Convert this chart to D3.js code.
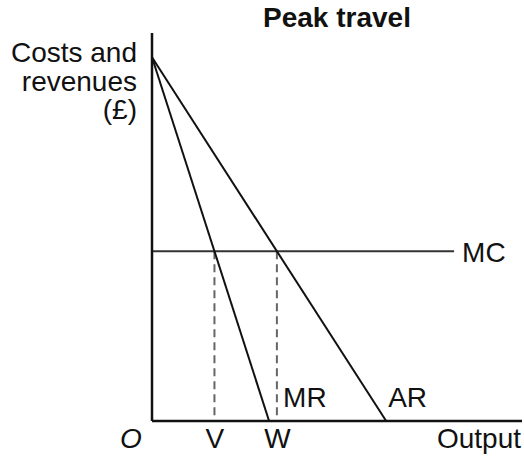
<!DOCTYPE html>
<html>
<head>
<meta charset="utf-8">
<script src="https://cdn.jsdelivr.net/npm/d3@7"></script>
<style>
  html, body { margin: 0; padding: 0; background: #fff; }
  text { font-family: "Liberation Sans", Arial, sans-serif; fill: #111; }
</style>
</head>
<body>
<svg id="chart" width="524" height="462"></svg>
<script>
// ---- data ----
const title = "Peak travel";
const yLabelLines = ["Costs and", "revenues", "(£)"];
const xLabel = "Output";
const originLabel = "O";
const xDomain = [0, 15.8];
const yDomain = [0, 16];
const arLine = [[0, 15], [10, 0]];        // AR: demand
const mrLine = [[0, 15], [5, 0]];         // MR
const mcLine = [[0, 7], [12.9, 7]];       // MC
const qTicks = [8 / 3, 16 / 3];           // V, W
const qTickLabels = ["V", "W"];
const mcValue = 7;

// ---- layout ----
const FS = 28;
const svg = d3.select("#chart");
const x = d3.scaleLinear().domain(xDomain).range([152, 522]);
const y = d3.scaleLinear().domain(yDomain).range([421, 33]);
const line = d3.line().x(d => x(d[0])).y(d => y(d[1]));

// dashed drop lines
svg.selectAll(".drop").data(qTicks).enter().append("line")
  .attr("x1", d => x(d)).attr("x2", d => x(d))
  .attr("y1", y(mcValue)).attr("y2", y(0))
  .attr("stroke", "#666").attr("stroke-width", 2)
  .attr("stroke-dasharray", "8,5");

// MC
svg.append("path").attr("d", line(mcLine))
  .attr("fill", "none").attr("stroke", "#333").attr("stroke-width", 2);

// MR and AR
[mrLine, arLine].forEach(l => {
  svg.append("path").attr("d", line(l))
    .attr("fill", "none").attr("stroke", "#111").attr("stroke-width", 2);
});

// axes
const xAxis = d3.axisBottom(x).tickValues(qTicks)
  .tickFormat((d, i) => qTickLabels[i]).tickSize(0).tickPadding(14);
const gx = svg.append("g").attr("transform", `translate(0,${y(0)})`).call(xAxis);
gx.select(".domain").attr("stroke", "#111").attr("stroke-width", 2.5)
  .attr("d", `M${x(xDomain[0])},0H${x(xDomain[1])}`);
gx.selectAll(".tick text").attr("font-size", FS)
  .attr("font-family", '"Liberation Sans", Arial, sans-serif').attr("fill", "#111")
  .attr("dy", null).attr("y", 27);

const yAxis = d3.axisLeft(y).tickValues([]).tickSize(0);
const gy = svg.append("g").attr("transform", `translate(${x(0)},0)`).call(yAxis);
gy.select(".domain").attr("stroke", "#111").attr("stroke-width", 2.5)
  .attr("d", `M0,${y(yDomain[1])}V${y(yDomain[0])}`);

// labels
svg.append("text").text(title).attr("x", 337).attr("y", 27)
  .attr("text-anchor", "middle").attr("font-weight", "bold").attr("font-size", 28);

svg.selectAll(".ylab").data(yLabelLines).enter().append("text")
  .text(d => d).attr("x", 137).attr("y", (d, i) => 62 + i * 28.5)
  .attr("text-anchor", "end").attr("font-size", FS);

svg.append("text").text(xLabel).attr("x", 521).attr("y", 448)
  .attr("text-anchor", "end").attr("font-size", FS);
svg.append("text").text(originLabel).attr("x", 131).attr("y", 448)
  .attr("text-anchor", "middle").attr("font-style", "italic").attr("font-size", FS);

svg.append("text").text("MC").attr("x", x(mcLine[1][0]) + 8).attr("y", y(mcValue) + 11)
  .attr("font-size", FS);
svg.append("text").text("MR").attr("x", x(mrLine[1][0]) + 14).attr("y", 407)
  .attr("font-size", FS);
svg.append("text").text("AR").attr("x", x(arLine[1][0]) + 2).attr("y", 407)
  .attr("font-size", FS);
</script>
</body>
</html>
